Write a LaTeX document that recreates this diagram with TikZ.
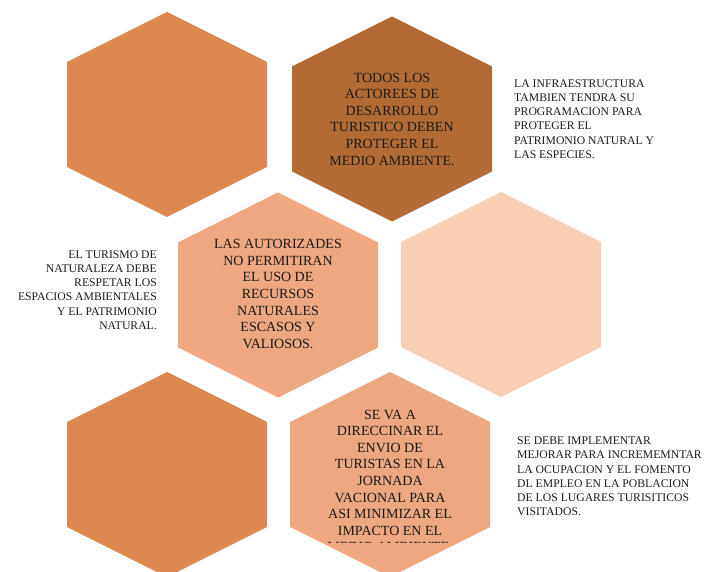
\documentclass[tikz,border=0pt]{standalone}
\usepackage{fontspec}
\setmainfont{Liberation Serif}
\usepackage{xcolor}
\usepackage{tikz}
\usetikzlibrary{positioning}
\definecolor{HexOrange}{HTML}{DC8850}
\definecolor{HexBrown}{HTML}{B36B33}
\definecolor{HexSalmon}{HTML}{EFA77F}
\definecolor{HexPeach}{HTML}{F8CEB4}
\definecolor{NoteInk}{HTML}{1A1A1A}
\tikzset{
  hexcell/.pic={\fill[#1] (0,-102.5) -- (100,-52.5) -- (100,52.5) -- (0,102.5) -- (-100,52.5) -- (-100,-52.5) -- cycle;},
  hextext/.style={align=center,inner sep=0pt,text=NoteInk,font=\fontsize{14}{16.6}\selectfont},
  sidenote/.style={inner sep=0pt,text=NoteInk,font=\fontsize{11.7}{14.2}\selectfont}
}

\begin{document}
\begin{tikzpicture}[x=1pt,y=-1pt]
\useasboundingbox (0,0) rectangle (713,572);
\clip (0,0) rectangle (713,572);
% hexagon centres
\coordinate (cA) at (167,114.5);
\coordinate (cB) at (392,119);
\coordinate (cC) at (278,295);
\coordinate (cD) at (501,294.5);
\coordinate (cE) at (167,474.5);
\coordinate (cF) at (390,474.5);
\pic at (cA) {hexcell=HexOrange};
\pic at (cB) {hexcell=HexBrown};
\pic at (cC) {hexcell=HexSalmon};
\pic at (cD) {hexcell=HexPeach};
\pic at (cE) {hexcell=HexOrange};
\pic at (cF) {hexcell=HexSalmon};
% texts inside
\node[hextext] (actores) at (cB) {TODOS LOS\\ACTOREES DE\\DESARROLLO\\TURISTICO DEBEN\\PROTEGER EL\\MEDIO AMBIENTE.};
\node[hextext] (autorizades) at (278,294) {LAS AUTORIZADES\\NO PERMITIRAN\\EL USO DE\\RECURSOS\\NATURALES\\ESCASOS Y\\VALIOSOS.};
\begin{scope}
\clip (290,370) rectangle (492,542.5);
\node[hextext] (direccionar) at (390,481) {SE VA A\\DIRECCINAR EL\\ENVIO DE\\TURISTAS EN LA\\JORNADA\\VACIONAL PARA\\ASI MINIMIZAR EL\\IMPACTO EN EL\\MEDIO AMBIENTE.};
\end{scope}
% side notes
\node[sidenote,align=left,right=122pt of cB] (infra) {LA INFRAESTRUCTURA\\TAMBIEN TENDRA SU\\PROGRAMACION PARA\\PROTEGER EL\\PATRIMONIO NATURAL Y\\LAS ESPECIES.};
\node[sidenote,align=right,left=121pt of cC,yshift=5pt] (naturaleza) {EL TURISMO DE\\NATURALEZA DEBE\\RESPETAR LOS\\ESPACIOS AMBIENTALES\\Y EL PATRIMONIO\\NATURAL.};
\node[sidenote,align=left,right=127pt of cF,yshift=-2pt] (empleo) {SE DEBE IMPLEMENTAR\\MEJORAR PARA INCREMEMNTAR\\LA OCUPACION Y EL FOMENTO\\DL EMPLEO EN LA POBLACION\\DE LOS LUGARES TURISITICOS\\VISITADOS.};
\end{tikzpicture}
\end{document}
